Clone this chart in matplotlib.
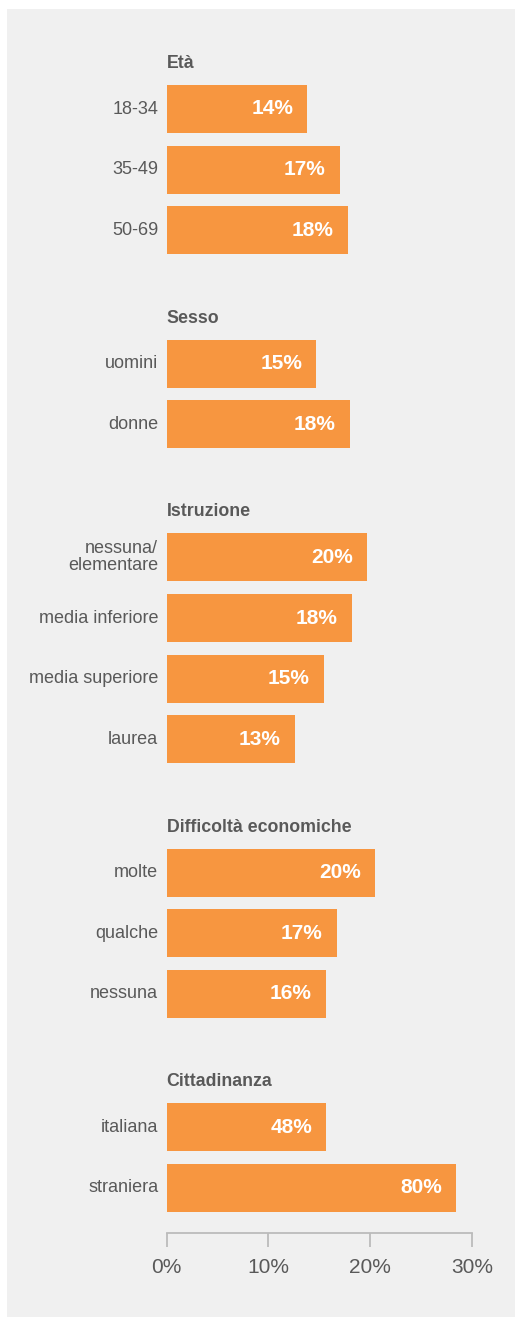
import matplotlib
matplotlib.use("Agg")
import matplotlib.pyplot as plt
from matplotlib.patches import Rectangle
from matplotlib.transforms import offset_copy

plt.rcParams['font.family'] = ['Liberation Sans', 'DejaVu Sans']

# ---- data ----
group_titles = ["Età", "Sesso", "Istruzione", "Difficoltà economiche", "Cittadinanza"]
group_categories = [
    ["18-34", "35-49", "50-69"],
    ["uomini", "donne"],
    ["nessuna/\nelementare", "media inferiore", "media superiore", "laurea"],
    ["molte", "qualche", "nessuna"],
    ["italiana", "straniera"],
]
# bar lengths as drawn (percent)
group_values = [
    [13.8, 17.0, 17.8],
    [14.7, 18.0],
    [19.7, 18.2, 15.45, 12.6],
    [20.5, 16.7, 15.65],
    [15.65, 28.4],
]
# labels printed inside bars
group_labels = [
    ["14%", "17%", "18%"],
    ["15%", "18%"],
    ["20%", "18%", "15%", "13%"],
    ["20%", "17%", "16%"],
    ["48%", "80%"],
]
x_ticks = [0, 10, 20, 30]
x_ticklabels = ["0%", "10%", "20%", "30%"]

# ---- style ----
BAR = "#F79640"
BG = "#F0F0F0"
TXT = "#595959"
W, H = 516, 1317
fig = plt.figure(figsize=(W / 100, H / 100), dpi=100)
fig.patch.set_facecolor("white")

bg_ax = fig.add_axes([0, 0, 1, 1], zorder=-5)
bg_ax.set_xlim(0, W)
bg_ax.set_ylim(H, 0)
bg_ax.axis("off")
bg_ax.add_patch(Rectangle((7, 9), 515 - 7, H - 9, facecolor=BG, edgecolor="none"))

ax_left = 166.7 / W
ax_right = 472 / W
ax_bottom = 1 - 1232.7 / H
ax_top = 1 - 9 / H
ax = fig.add_axes([ax_left, ax_bottom, ax_right - ax_left, ax_top - ax_bottom], zorder=1)
ax.set_facecolor("none")

slot_px = 60.6
group_gap = 2.2
header_off = 0.75
bar_h = 48 / slot_px

pos = 0.0
ys, vals, labs, cats, headers = [], [], [], [], []
for gi, (title, cs, vs, ls) in enumerate(zip(group_titles, group_categories, group_values, group_labels)):
    if gi > 0:
        pos += group_gap - 1
    headers.append((title, pos - header_off))
    for c, v, l in zip(cs, vs, ls):
        ys.append(pos)
        vals.append(v)
        labs.append(l)
        cats.append(c)
        pos += 1

ax.barh(ys, vals, height=bar_h, color=BAR, zorder=2)

lab_tr = offset_copy(ax.transData, fig=fig, x=-14, y=0, units="dots")
for y, v, l in zip(ys, vals, labs):
    ax.text(v, y, l, transform=lab_tr, ha="right", va="center",
            color="white", fontsize=15, fontweight="bold", zorder=3)

cat_tr = offset_copy(ax.transData, fig=fig, x=-8.5, y=0, units="dots")
for y, c in zip(ys, cats):
    ax.text(0, y, c, transform=cat_tr, ha="right", va="center",
            color=TXT, fontsize=13, linespacing=1.0, clip_on=False)

for title, y in headers:
    ax.text(0, y, title, ha="left", va="center", color=TXT,
            fontsize=12.8, fontweight="bold")

ax.set_xlim(0, 30)
top_slot = -(109 - 9) / slot_px
bottom_slot = (1232.7 - 109) / slot_px
ax.set_ylim(bottom_slot, top_slot)

for s in ["top", "right", "left"]:
    ax.spines[s].set_visible(False)
ax.spines["bottom"].set_color("#BBBBBB")
ax.spines["bottom"].set_linewidth(1.3)
ax.set_yticks([])
ax.set_xticks(x_ticks)
ax.set_xticklabels(x_ticklabels)
ax.tick_params(axis="x", length=10, width=1.3, color="#BBBBBB",
               labelsize=15, labelcolor=TXT, pad=8)

fig.savefig("out.png", dpi=100, facecolor=fig.get_facecolor())
